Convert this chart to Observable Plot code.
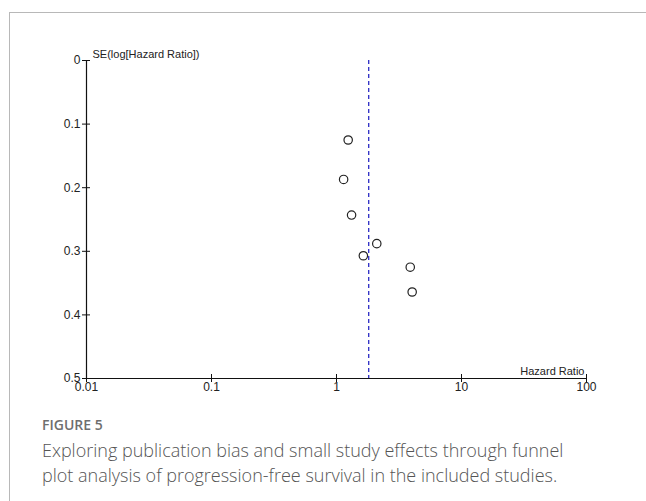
<!DOCTYPE html>
<html>
<head>
<meta charset="utf-8">
<script src="https://cdn.jsdelivr.net/npm/d3@7"></script>
<script src="https://cdn.jsdelivr.net/npm/@observablehq/plot@0.6"></script>
<style>
  html, body { margin: 0; padding: 0; background: #fff; }
  body { width: 646px; height: 501px; position: relative; overflow: hidden; }
  #frame { position: absolute; left: 9px; top: 12px; width: 700px; height: 600px;
           border-top: 1.5px solid #b8b8b8; border-left: 1.5px solid #b8b8b8; }
  #chart { position: absolute; left: 0; top: 0; }
  #fig { position: absolute; left: 42px; top: 415px; font-family: "Open Sans", sans-serif;
         font-weight: 600; font-size: 14px; line-height: 20px; color: #6e6e6e; }
  #cap { position: absolute; left: 42px; top: 438px; width: 535px; font-family: "Open Sans", sans-serif;
         font-weight: 300; font-size: 18px; line-height: 25px; color: #555; }
</style>
</head>
<body>
<div id="frame"></div>
<div id="chart"></div>
<div id="fig">FIGURE 5</div>
<div id="cap">Exploring publication bias and small study effects through funnel plot analysis of progression-free survival in the included studies.</div>
<script>
// Study data
const hazardRatio = [1.24, 1.14, 1.32, 2.10, 1.64, 3.89, 4.03];
const seLogHR     = [0.125, 0.187, 0.243, 0.288, 0.307, 0.325, 0.364];
const pooledHR    = [1.81];
const xTicks = [0.01, 0.1, 1, 10, 100];
const yTicks = [0, 0.1, 0.2, 0.3, 0.4, 0.5];
const xLabel = "Hazard Ratio";
const yLabel = "SE(log[Hazard Ratio])";

const studies = hazardRatio.map((hr, i) => ({hr, se: seLogHR[i]}));
const font = "'Liberation Sans', Arial, sans-serif";

const chart = Plot.plot({
  width: 646,
  height: 400,
  marginLeft: 86,
  marginRight: 60,
  marginTop: 60,
  marginBottom: 22,
  style: {fontFamily: font, fontSize: "12px", color: "#222", background: "transparent", overflow: "visible"},
  x: {type: "log", domain: [xTicks[0], xTicks[xTicks.length - 1]]},
  y: {domain: [yTicks[0], yTicks[yTicks.length - 1]], reverse: true},
  marks: [
    // axis lines
    Plot.ruleX([xTicks[0]], {stroke: "#111", strokeWidth: 1.2}),
    Plot.ruleY([yTicks[yTicks.length - 1]], {stroke: "#111", strokeWidth: 1.2}),
    // cross ticks
    Plot.axisY({ticks: yTicks, tickSize: 8, dx: 4, text: null, stroke: "#111", label: null}),
    Plot.axisX({ticks: xTicks, tickSize: 8, dy: -4, text: null, stroke: "#111", label: null}),
    // tick labels
    Plot.axisY({ticks: yTicks, tickSize: 0, tickPadding: 6, tickFormat: d => String(d), label: null, fill: "#222"}),
    Plot.axisX({ticks: xTicks, tickSize: 0, tickPadding: 4, tickFormat: d => String(d), label: null, fill: "#222"}),
    // pooled estimate
    Plot.ruleX(pooledHR, {stroke: "#2b2bc4", strokeWidth: 1.3, strokeDasharray: "4,3"}),
    // studies
    Plot.dot(studies, {x: "hr", y: "se", r: 4.2, stroke: "#222", strokeWidth: 1.2, fill: "none"}),
    // axis titles
    Plot.text([yLabel], {frameAnchor: "top-left", dx: 6, dy: -3, textAnchor: "start", lineAnchor: "bottom", fill: "#222", fontSize: 11}),
    Plot.text([xLabel], {frameAnchor: "bottom-right", dx: -2, dy: -4, textAnchor: "end", lineAnchor: "bottom", fill: "#222", fontSize: 11})
  ]
});
document.getElementById("chart").appendChild(chart);
</script>
</body>
</html>
